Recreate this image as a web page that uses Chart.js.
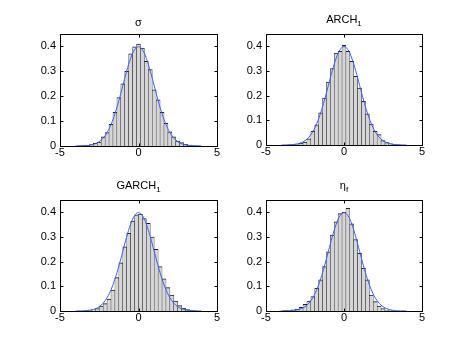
<!DOCTYPE html>
<html>
<head>
<meta charset="utf-8">
<script src="https://cdn.jsdelivr.net/npm/chart.js@4.4.0/dist/chart.umd.min.js"></script>
<style>
  body { margin: 0; background: #fff; }
  #wrap { position: relative; width: 466px; height: 350px; }
  #wrap canvas { position: absolute; left: 0; top: 0; }
</style>
</head>
<body>
<div id="wrap">
  <canvas id="p1" width="466" height="350"></canvas>
  <canvas id="p2" width="466" height="350"></canvas>
  <canvas id="p3" width="466" height="350"></canvas>
  <canvas id="p4" width="466" height="350"></canvas>
</div>
<script>
// histogram bin centres
const binsEven = [-4, -3.75, -3.5, -3.25, -3, -2.75, -2.5, -2.25, -2, -1.75, -1.5, -1.25, -1, -0.75, -0.5, -0.25,
  0, 0.25, 0.5, 0.75, 1, 1.25, 1.5, 1.75, 2, 2.25, 2.5, 2.75, 3, 3.25, 3.5, 3.75, 4];
const binsHalf = [-3.875, -3.625, -3.375, -3.125, -2.875, -2.625, -2.375, -2.125, -1.875, -1.625, -1.375, -1.125,
  -0.875, -0.625, -0.375, -0.125, 0.125, 0.375, 0.625, 0.875, 1.125, 1.375, 1.625, 1.875, 2.125, 2.375, 2.625,
  2.875, 3.125, 3.375, 3.625, 3.875];

// densities
const sigmaHist = [0, 0.001, 0.002, 0.003, 0.006, 0.011, 0.016, 0.037, 0.054, 0.087, 0.135, 0.195, 0.25, 0.30, 0.37, 0.398,
  0.41, 0.393, 0.34, 0.307, 0.226, 0.186, 0.135, 0.091, 0.057, 0.037, 0.02, 0.014, 0.007, 0.004, 0.002, 0.001, 0];
const arch1Hist = [0, 0, 0.001, 0.002, 0.004, 0.008, 0.012, 0.025, 0.055, 0.082, 0.13, 0.19, 0.255, 0.31, 0.373, 0.38,
  0.404, 0.38, 0.339, 0.278, 0.231, 0.177, 0.126, 0.085, 0.055, 0.042, 0.018, 0.01, 0.005, 0.002, 0.001, 0, 0];
const garch1Hist = [0, 0, 0.001, 0.002, 0.005, 0.01, 0.02, 0.03, 0.048, 0.085, 0.135, 0.195, 0.26, 0.315, 0.365, 0.39,
  0.393, 0.375, 0.355, 0.30, 0.25, 0.18, 0.13, 0.095, 0.065, 0.04, 0.022, 0.012, 0.006, 0.003, 0.001, 0];
const etaHist = [0.001, 0.002, 0.003, 0.005, 0.008, 0.015, 0.027, 0.04, 0.058, 0.092, 0.126, 0.18, 0.24, 0.308, 0.362, 0.395,
  0.40, 0.416, 0.353, 0.29, 0.234, 0.173, 0.126, 0.065, 0.038, 0.02, 0.01, 0.004, 0.001, 0, 0, 0, 0];

// blue reference density curve (same in every panel)
const curveX = binsEven;
const curveY = [0.0001, 0.0004, 0.0009, 0.002, 0.0044, 0.0091, 0.0175, 0.0317, 0.054, 0.0863, 0.1295, 0.1826, 0.242,
  0.3011, 0.3521, 0.3867, 0.3989, 0.3867, 0.3521, 0.3011, 0.242, 0.1826, 0.1295, 0.0863, 0.054, 0.0317, 0.0175,
  0.0091, 0.0044, 0.002, 0.0009, 0.0004, 0.0001];

const xTicks = [-5, 0, 5];
const xTickLabels = ['-5', '0', '5'];
const yTicks = [0, 0.1, 0.2, 0.3, 0.4];
const yTickLabels = ['0', '0.1', '0.2', '0.3', '0.4'];

const titleMain = ['σ', 'ARCH', 'GARCH', 'η'];
const titleSub = ['', '1', '1', 'f'];

const W = 466, H = 350;
const FONT = 'Liberation Sans, Arial, Helvetica, sans-serif';

// draws the MATLAB style box, inward ticks and title
const matlabFrame = {
  id: 'matlabFrame',
  afterDraw(chart, args, opts) {
    const ctx = chart.ctx;
    const ca = chart.chartArea;
    const xs = chart.scales.x, ys = chart.scales.y;
    const l = Math.round(ca.left) + 0.5, r = Math.round(ca.right) + 0.5;
    const t = Math.round(ca.top) + 0.5, b = Math.round(ca.bottom) + 0.5;
    ctx.save();
    ctx.strokeStyle = '#000';
    ctx.lineWidth = 1;
    ctx.strokeRect(l, t, r - l, b - t);
    ctx.beginPath();
    yTicks.forEach(v => {
      if (v === 0) return;
      const y = Math.round(ys.getPixelForValue(v)) + 0.5;
      ctx.moveTo(l, y); ctx.lineTo(l + 3, y);
      ctx.moveTo(r, y); ctx.lineTo(r - 3, y);
    });
    xTicks.forEach(v => {
      const x = Math.round(xs.getPixelForValue(v)) + 0.5;
      ctx.moveTo(x, b); ctx.lineTo(x, b - 3);
      ctx.moveTo(x, t); ctx.lineTo(x, t + 3);
    });
    ctx.stroke();

    // title with optional subscript
    const main = opts.main, sub = opts.sub;
    ctx.fillStyle = '#000';
    ctx.textBaseline = 'alphabetic';
    ctx.textAlign = 'left';
    ctx.font = '11px ' + FONT;
    const mw = ctx.measureText(main).width;
    ctx.font = '8px ' + FONT;
    const sw = sub ? ctx.measureText(sub).width : 0;
    const cx = (ca.left + ca.right) / 2;
    const base = ca.top - (sub ? 11.5 : 8.5);
    const x0 = cx - (mw + sw) / 2;
    ctx.font = '11px ' + FONT;
    ctx.fillText(main, x0, base);
    if (sub) {
      ctx.font = '8px ' + FONT;
      ctx.fillText(sub, x0 + mw, base + 3);
    }
    ctx.restore();
  }
};

function makePlot(id, box, bins, dens, idx) {
  const ctx = document.getElementById(id).getContext('2d');
  return new Chart(ctx, {
    type: 'bar',
    data: {
      datasets: [
        {
          type: 'line',
          data: curveX.map((x, i) => ({ x: x, y: curveY[i] })),
          borderColor: '#3d5ef5',
          borderWidth: 1,
          pointRadius: 0,
          tension: 0.4,
          order: 0
        },
        {
          type: 'bar',
          data: bins.map((x, i) => ({ x: x, y: dens[i] })),
          backgroundColor: '#d6d6d6',
          borderColor: '#1e1e1e',
          borderWidth: { left: 0.5, right: 0.5, top: 1, bottom: 0 },
          borderSkipped: 'start',
          barPercentage: 1,
          categoryPercentage: 1,
          order: 1
        }
      ]
    },
    options: {
      responsive: false,
      animation: false,
      devicePixelRatio: 1,
      layout: { padding: { left: 0, top: box.top, right: W - box.right, bottom: 0 } },
      plugins: {
        legend: { display: false },
        tooltip: { enabled: false },
        matlabFrame: { main: titleMain[idx], sub: titleSub[idx] }
      },
      scales: {
        x: {
          type: 'linear',
          min: -5,
          max: 5,
          offset: false,
          afterBuildTicks: s => { s.ticks = xTicks.map(v => ({ value: v })); },
          afterFit: s => { s.height = H - box.bottom; },
          grid: { display: false, drawTicks: false, offset: false },
          border: { display: false },
          ticks: {
            autoSkip: false,
            maxRotation: 0,
            padding: 0,
            color: '#000',
            font: { family: FONT, size: 11 },
            callback: (v, i) => xTickLabels[i]
          }
        },
        y: {
          min: 0,
          max: 0.45,
          afterBuildTicks: s => { s.ticks = yTicks.map(v => ({ value: v })); },
          afterFit: s => { s.width = box.left; },
          grid: { display: false, drawTicks: false },
          border: { display: false },
          ticks: {
            padding: 4,
            color: '#000',
            font: { family: FONT, size: 11 },
            callback: (v, i) => yTickLabels[i]
          }
        }
      }
    },
    plugins: [matlabFrame]
  });
}

makePlot('p1', { left: 60, top: 34, right: 217, bottom: 146 }, binsEven, sigmaHist, 0);
makePlot('p2', { left: 266, top: 34, right: 422, bottom: 145 }, binsEven, arch1Hist, 1);
makePlot('p3', { left: 60, top: 200, right: 217, bottom: 311 }, binsHalf, garch1Hist, 2);
makePlot('p4', { left: 266, top: 200, right: 422, bottom: 311 }, binsEven, etaHist, 3);
</script>
</body>
</html>
